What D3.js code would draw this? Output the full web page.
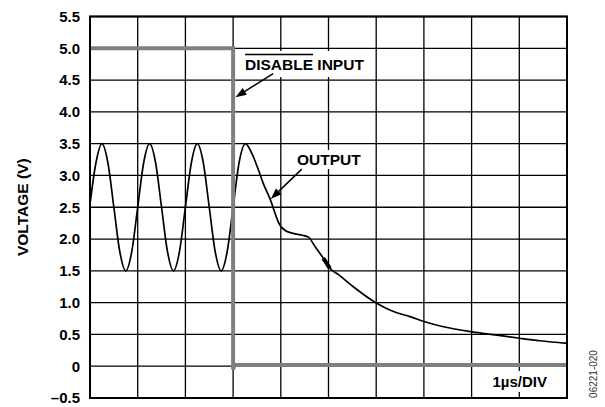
<!DOCTYPE html>
<html>
<head>
<meta charset="utf-8">
<script src="https://cdn.jsdelivr.net/npm/d3@7"></script>
<style>
  body { margin: 0; background: #fff; }
  svg { display: block; }
  text { font-family: "Liberation Sans", Arial, sans-serif; font-weight: bold; }
</style>
</head>
<body>
<svg id="chart" width="605" height="407"></svg>
<script>
// time axis in microseconds, 1 us per division
var timeDomain = [0, 10];
var voltDomain = [-0.5, 5.5];
var voltTicks = [-0.5, 0, 0.5, 1.0, 1.5, 2.0, 2.5, 3.0, 3.5, 4.0, 4.5, 5.0, 5.5];
var timeTicks = [0, 1, 2, 3, 4, 5, 6, 7, 8, 9, 10];

// DISABLE input trace
var disableT = [0, 3.0, 3.0, 3.03, 10];
var disableV = [5.0, 5.0, -0.05, 0.02, 0.02];

// output trace
var outputT = [0, 0.125, 0.25, 0.375, 0.5, 0.625, 0.75, 0.875,
  1.0, 1.125, 1.25, 1.375, 1.5, 1.625, 1.75, 1.875,
  2.0, 2.125, 2.25, 2.375, 2.5, 2.625, 2.75, 2.875,
  3.0, 3.125, 3.26, 3.39, 3.53, 3.63, 3.77, 3.98, 4.1, 4.26, 4.45, 4.58,
  4.72, 4.89, 5.03, 5.21, 5.52, 6.01, 6.36, 6.71, 7.02, 7.41, 8.01,
  8.53, 9.01, 9.43, 10];
var outputV = [2.55, 3.2, 3.5, 3.2, 2.5, 1.8, 1.5, 1.8,
  2.5, 3.2, 3.5, 3.2, 2.5, 1.8, 1.5, 1.8,
  2.5, 3.2, 3.5, 3.2, 2.5, 1.8, 1.5, 1.8,
  2.5, 3.2, 3.5, 3.35, 3.09, 2.88, 2.64, 2.22, 2.13, 2.09, 2.06, 2.03,
  1.88, 1.70, 1.54, 1.44, 1.25, 0.99, 0.86, 0.78, 0.70, 0.62, 0.54,
  0.49, 0.44, 0.40, 0.36];
// noisy (thick) stretch of the output
var noisyRange = [4.82, 5.05];

var margin = {left: 90, top: 16.5, right: 38, bottom: 9};
var svg = d3.select("#chart");
var W = 605 - margin.left - margin.right;
var H = 407 - margin.top - margin.bottom;

var x = d3.scaleLinear().domain(timeDomain).range([0, W]);
var y = d3.scaleLinear().domain(voltDomain).range([H, 0]);

var g = svg.append("g").attr("transform", "translate(" + margin.left + "," + margin.top + ")");

// grid
g.append("g").selectAll("line").data(timeTicks).enter().append("line")
  .attr("x1", function(d) { return x(d); }).attr("x2", function(d) { return x(d); })
  .attr("y1", 0).attr("y2", H)
  .attr("stroke", "#000").attr("stroke-width", 1.3);
g.append("g").selectAll("line").data(voltTicks).enter().append("line")
  .attr("y1", function(d) { return y(d); }).attr("y2", function(d) { return y(d); })
  .attr("x1", 0).attr("x2", W)
  .attr("stroke", "#000").attr("stroke-width", 1.3);

// y axis labels
var yAxis = d3.axisLeft(y).tickValues(voltTicks).tickSize(0).tickPadding(10)
  .tickFormat(function(d) {
    if (d === 0) return "0";
    return (d < 0 ? "\u2013" : "") + Math.abs(d).toFixed(1);
  });
var ya = g.append("g").call(yAxis);
ya.select(".domain").remove();
ya.selectAll("text").attr("font-size", 15).attr("fill", "#000")
  .style("font-family", "'Liberation Sans', Arial, sans-serif").style("font-weight", "bold");

svg.append("text")
  .attr("transform", "translate(28," + (margin.top + H / 2) + ") rotate(-90)")
  .attr("text-anchor", "middle").attr("font-size", 15.5).text("VOLTAGE (V)");

// label backgrounds (hide grid)
function bg(x0, y0, x1, y1) {
  g.append("rect").attr("x", x0 - margin.left).attr("y", y0 - margin.top)
    .attr("width", x1 - x0).attr("height", y1 - y0).attr("fill", "#fff");
}
bg(242, 51, 369, 77);
bg(294, 150, 365, 169);
bg(488, 371, 551, 392);

// output trace
var outData = outputT.map(function(t, i) { return [t, outputV[i]]; });
var line = d3.line()
  .x(function(d) { return x(d[0]); })
  .y(function(d) { return y(d[1]); })
  .curve(d3.curveMonotoneX);
g.append("path").datum(outData).attr("d", line)
  .attr("fill", "none").attr("stroke", "#000").attr("stroke-width", 1.7);
g.append("path")
  .datum(outData.filter(function(d) { return d[0] >= noisyRange[0] && d[0] <= noisyRange[1]; }))
  .attr("d", line)
  .attr("fill", "none").attr("stroke", "#000").attr("stroke-width", 4);

// disable trace
var disData = disableT.map(function(t, i) { return [t, disableV[i]]; });
g.append("path").datum(disData)
  .attr("d", d3.line().x(function(d) { return x(d[0]); }).y(function(d) { return y(d[1]); }))
  .attr("fill", "none").attr("stroke", "#7f7f7f").attr("stroke-width", 4)
  .attr("stroke-linejoin", "miter");

// frame
g.append("rect").attr("width", W).attr("height", H)
  .attr("fill", "none").attr("stroke", "#000").attr("stroke-width", 2);

// arrows
function arrow(t0, v0, t1, v1) {
  var x0 = x(t0), y0 = y(v0), x1 = x(t1), y1 = y(v1);
  var a = Math.atan2(y1 - y0, x1 - x0);
  var len = 11, hw = 4;
  var bx = x1 - len * Math.cos(a), by = y1 - len * Math.sin(a);
  g.append("line").attr("x1", x0).attr("y1", y0).attr("x2", bx).attr("y2", by)
    .attr("stroke", "#000").attr("stroke-width", 1.5);
  g.append("path")
    .attr("d", "M" + x1 + "," + y1 +
      " L" + (bx + hw * Math.sin(a)) + "," + (by - hw * Math.cos(a)) +
      " L" + (bx - hw * Math.sin(a)) + "," + (by + hw * Math.cos(a)) + " Z")
    .attr("fill", "#000");
}
arrow(3.84, 4.6, 3.05, 4.23);
arrow(4.44, 3.1, 3.79, 2.63);

// annotations
var dis = svg.append("text").attr("x", 245).attr("y", 70).attr("font-size", 15.5);
dis.append("tspan").text("DISABLE");
dis.append("tspan").text(" INPUT");
var dw = dis.node().getSubStringLength(0, 7);
svg.append("line").attr("x1", 245).attr("x2", 245 + dw)
  .attr("y1", 54.5).attr("y2", 54.5).attr("stroke", "#000").attr("stroke-width", 1.3);

svg.append("text").attr("x", 297).attr("y", 165).attr("font-size", 15.5).text("OUTPUT");
svg.append("text").attr("x", 547).attr("y", 387).attr("text-anchor", "end")
  .attr("font-size", 15).text("1\u00b5s/DIV");

svg.append("text")
  .attr("transform", "translate(597,374) rotate(-90)")
  .attr("text-anchor", "middle").attr("font-size", 10)
  .style("font-weight", "normal").attr("fill", "#333").text("06221-020");
</script>
</body>
</html>
